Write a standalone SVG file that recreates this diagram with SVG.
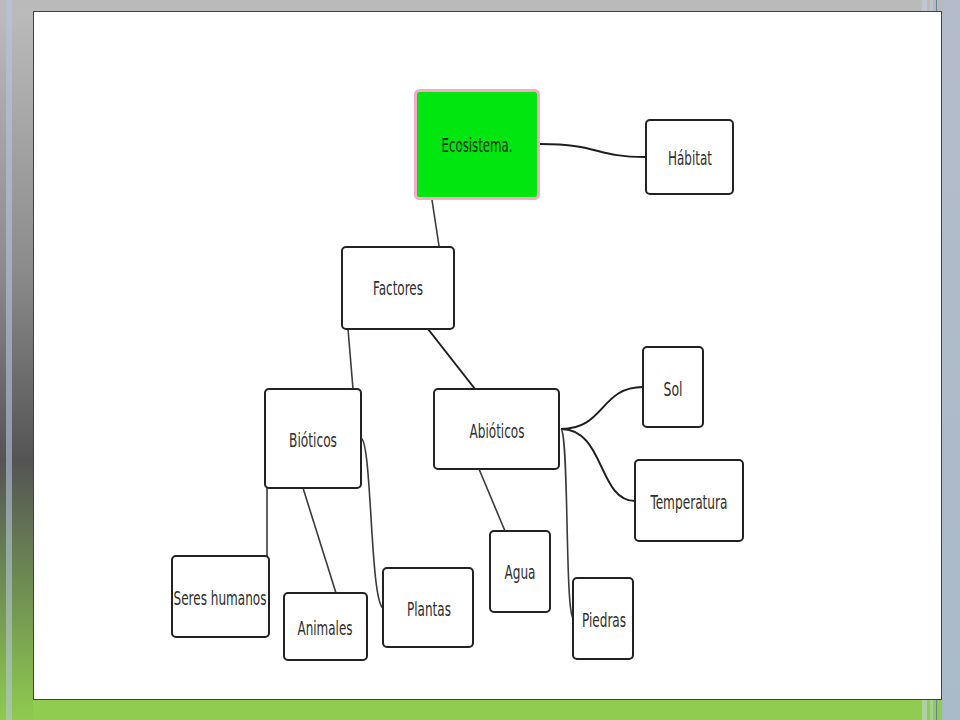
<svg xmlns="http://www.w3.org/2000/svg" width="960" height="720" viewBox="0 0 960 720">
  <defs>
    <linearGradient id="bgGrad" x1="0" y1="0" x2="0" y2="1">
      <stop offset="0" stop-color="#bdbdbd"/>
      <stop offset="0.38" stop-color="#8a8a8a"/>
      <stop offset="0.64" stop-color="#545454"/>
      <stop offset="0.82" stop-color="#6f8f52"/>
      <stop offset="1" stop-color="#8fcb4e"/>
    </linearGradient>
    <linearGradient id="rightGrad" x1="0" y1="0" x2="0" y2="1">
      <stop offset="0" stop-color="#b4bccb"/>
      <stop offset="1" stop-color="#a9bac8"/>
    </linearGradient>
    <style>
      .node rect { fill: #ffffff; stroke: #222222; stroke-width: 2; }
      .node text { font-family: "DejaVu Sans Condensed", "DejaVu Sans", "Liberation Sans", sans-serif; font-stretch: condensed; font-size: 20px; fill: #2e2e2e; text-anchor: middle; }
      .root rect { fill: #00e60e; stroke: #f6a9c9; stroke-width: 3; }
      .root text { fill: #0f300f; }
      .curve { fill: none; stroke: #1e1e1e; stroke-width: 2; }
      .line { fill: none; stroke: #3a3a3a; stroke-width: 1.6; }
    </style>
  </defs>

  <!-- background -->
  <rect x="0" y="0" width="960" height="720" fill="url(#bgGrad)"/>
  <rect x="0" y="0" width="942" height="12" fill="#bababa"/>
  <rect x="33" y="700" width="909" height="20" fill="#8fcc50"/>
  <rect x="942" y="0" width="18" height="720" fill="url(#rightGrad)"/>
  <rect x="922" y="0" width="5" height="720" fill="#c4d0e2" opacity="0.6"/>
  <rect x="930" y="0" width="3" height="720" fill="#c4d0e2" opacity="0.5"/>
  <line x1="936.5" y1="0" x2="936.5" y2="720" stroke="#6a7f99" stroke-width="1"/>
  <rect x="6" y="0" width="6" height="720" fill="#b4c4dc" opacity="0.6"/>

  <!-- panel -->
  <rect x="33.5" y="11.5" width="908" height="688" fill="#ffffff" stroke="#2c4660" stroke-width="1"/>

  <!-- connectors -->
  <g id="connectors">
    <path class="curve" d="M540,144 C600,144 595,157 645,157"/>
    <path class="line" d="M432,200 L439,246"/>
    <path class="line" d="M348,329 L353,389"/>
    <path class="curve" d="M428,329 L475,389"/>
    <path class="line" d="M267,488 L267,556"/>
    <path class="line" d="M303,488 L336,593"/>
    <path class="line" d="M361,438 C372,442 370,600 383,608"/>
    <path class="curve" d="M561,429 C605,429 600,387 643,387"/>
    <path class="curve" d="M561,429 C605,429 598,501 635,501"/>
    <path class="line" d="M561,429 C569,434 565,610 573,618"/>
    <path class="line" d="M479,469 L505,531"/>
  </g>

  <!-- nodes -->
  <g id="node-ecosistema" class="node root">
    <rect x="415.5" y="90.5" width="123" height="108" rx="4"/>
    <text x="477" y="152" textLength="71" lengthAdjust="spacingAndGlyphs">Ecosistema.</text>
  </g>
  <g id="node-habitat" class="node">
    <rect x="646" y="120" width="87" height="74" rx="4"/>
    <text x="690" y="165" textLength="44" lengthAdjust="spacingAndGlyphs">Hábitat</text>
  </g>
  <g id="node-factores" class="node">
    <rect x="342" y="247" width="112" height="82" rx="4"/>
    <text x="398" y="295" textLength="50" lengthAdjust="spacingAndGlyphs">Factores</text>
  </g>
  <g id="node-bioticos" class="node">
    <rect x="265" y="389" width="96" height="99" rx="4"/>
    <text x="313" y="447" textLength="48" lengthAdjust="spacingAndGlyphs">Bióticos</text>
  </g>
  <g id="node-abioticos" class="node">
    <rect x="434" y="389" width="125" height="80" rx="4"/>
    <text x="497" y="438" textLength="55" lengthAdjust="spacingAndGlyphs">Abióticos</text>
  </g>
  <g id="node-sol" class="node">
    <rect x="643" y="347" width="60" height="80" rx="4"/>
    <text x="673" y="396" textLength="19" lengthAdjust="spacingAndGlyphs">Sol</text>
  </g>
  <g id="node-temperatura" class="node">
    <rect x="635" y="460" width="108" height="81" rx="4"/>
    <text x="689" y="509" textLength="77" lengthAdjust="spacingAndGlyphs">Temperatura</text>
  </g>
  <g id="node-seres-humanos" class="node">
    <rect x="172" y="556" width="97" height="81" rx="4"/>
    <text x="220" y="605" textLength="93" lengthAdjust="spacingAndGlyphs">Seres humanos</text>
  </g>
  <g id="node-animales" class="node">
    <rect x="284" y="593" width="83" height="67" rx="4"/>
    <text x="325" y="635" textLength="55" lengthAdjust="spacingAndGlyphs">Animales</text>
  </g>
  <g id="node-plantas" class="node">
    <rect x="383" y="568" width="90" height="79" rx="4"/>
    <text x="429" y="616" textLength="44" lengthAdjust="spacingAndGlyphs">Plantas</text>
  </g>
  <g id="node-agua" class="node">
    <rect x="490" y="531" width="60" height="81" rx="4"/>
    <text x="520" y="579" textLength="31" lengthAdjust="spacingAndGlyphs">Agua</text>
  </g>
  <g id="node-piedras" class="node">
    <rect x="573" y="578" width="60" height="81" rx="4"/>
    <text x="604" y="627" textLength="44" lengthAdjust="spacingAndGlyphs">Piedras</text>
  </g>
</svg>
